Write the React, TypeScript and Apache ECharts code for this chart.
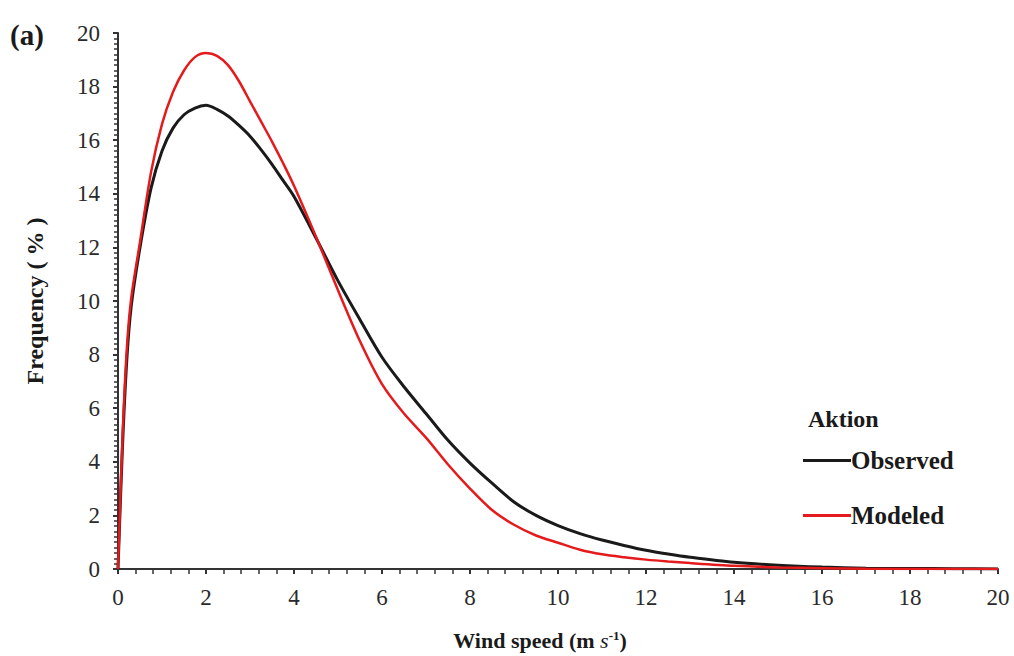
import React, { useEffect, useRef } from "react";
import * as echarts from "echarts";

const windSpeed = [0, 0.1, 0.2, 0.3, 0.5, 0.75, 1, 1.25, 1.5, 1.75, 2, 2.25, 2.5, 2.75, 3, 3.25, 3.5, 3.75, 4, 4.5, 5, 5.5, 6, 6.5, 7, 7.5, 8, 8.5, 9, 9.5, 10, 10.5, 11, 11.5, 12, 12.5, 13, 14, 15, 16, 17, 18, 19, 20];
const observed = [0, 4.5, 7.8, 9.8, 12.0, 14.2, 15.6, 16.45, 16.95, 17.2, 17.3, 17.15, 16.9, 16.55, 16.15, 15.65, 15.1, 14.5, 13.9, 12.35, 10.75, 9.3, 7.9, 6.8, 5.8, 4.8, 3.95, 3.2, 2.5, 2.0, 1.62, 1.32, 1.08, 0.88, 0.7, 0.56, 0.44, 0.25, 0.14, 0.07, 0.03, 0.02, 0.01, 0];
const modeled = [0, 4.8, 8.2, 10.1, 12.2, 14.8, 16.6, 17.8, 18.6, 19.1, 19.25, 19.15, 18.8, 18.2, 17.45, 16.7, 15.95, 15.15, 14.3, 12.4, 10.4, 8.5, 6.9, 5.8, 4.9, 3.9, 3.0, 2.2, 1.65, 1.25, 0.98, 0.72, 0.55, 0.44, 0.35, 0.28, 0.22, 0.12, 0.06, 0.03, 0.01, 0, 0, 0];

const seriesNames = ["Observed", "Modeled"];
const legendTitle = "Aktion";
const panelLabel = "(a)";
const yAxisName = "Frequency ( % )";

const serif = "'Liberation Serif', 'DejaVu Serif', serif";

export default function App() {
  const ref = useRef<HTMLDivElement>(null);
  useEffect(() => {
    if (!ref.current) return;
    const chart = echarts.init(ref.current, undefined, { renderer: "svg" });
    chart.setOption({
      animation: false,
      backgroundColor: "#ffffff",
      grid: { left: 118, right: 16, top: 33, bottom: 82, containLabel: false },
      xAxis: {
        type: "value",
        min: 0,
        max: 20,
        interval: 2,
        name: "{b|Wind speed (m }{i|s}{s|-1}{b|)}",
        nameLocation: "middle",
        nameGap: 60,
        nameTextStyle: {
          padding: [0, 36, 0, 0],
          rich: {
            b: { fontFamily: serif, fontWeight: "bold", fontSize: 22, color: "#1a1a1a" },
            i: { fontFamily: serif, fontStyle: "italic", fontSize: 22, color: "#1a1a1a" },
            s: { fontFamily: serif, fontWeight: "bold", fontSize: 13, color: "#1a1a1a", verticalAlign: "top", padding: [0, 0, 9, 0] },
          },
        },
        axisLine: { lineStyle: { color: "#333", width: 2 } },
        axisTick: { show: true, length: 5, lineStyle: { color: "#333", width: 2 } },
        minorTick: { show: true, splitNumber: 5, length: 5, lineStyle: { color: "#333", width: 1.5 } },
        splitLine: { show: false },
        axisLabel: { fontFamily: serif, fontSize: 23, color: "#2a2a2a", margin: 17 },
      },
      yAxis: {
        type: "value",
        min: 0,
        max: 20,
        interval: 2,
        name: yAxisName,
        nameLocation: "middle",
        nameGap: 71,
        nameTextStyle: { fontFamily: serif, fontWeight: "bold", fontSize: 24, color: "#1a1a1a" },
        axisLine: { lineStyle: { color: "#333", width: 2 } },
        axisTick: { show: true, length: 5, lineStyle: { color: "#333", width: 2 } },
        minorTick: { show: true, splitNumber: 10, length: 4, lineStyle: { color: "#333", width: 1.5 } },
        splitLine: { show: false },
        axisLabel: { fontFamily: serif, fontSize: 23, color: "#2a2a2a", margin: 18 },
      },
      legend: {
        orient: "vertical",
        left: 798,
        top: 443,
        itemWidth: 48,
        itemHeight: 3,
        itemGap: 30,
        icon: "rect",
        textStyle: { fontFamily: serif, fontWeight: "bold", fontSize: 25, color: "#1a1a1a", padding: [20, 0, 0, -5] },
        data: seriesNames,
      },
      graphic: [
        {
          type: "text",
          left: 10,
          top: 20,
          style: { text: panelLabel, font: `bold 29px ${serif}`, fill: "#1a1a1a" },
        },
        {
          type: "text",
          left: 808,
          top: 407,
          style: { text: legendTitle, font: `bold 24px ${serif}`, fill: "#1a1a1a" },
        },
      ],
      series: [
        {
          name: seriesNames[0],
          type: "line",
          data: windSpeed.map((x, i) => [x, observed[i]]),
          showSymbol: false,
          smooth: 0.3,
          itemStyle: { color: "#1a1a1a" },
          lineStyle: { color: "#1a1a1a", width: 3 },
          z: 2,
        },
        {
          name: seriesNames[1],
          type: "line",
          data: windSpeed.map((x, i) => [x, modeled[i]]),
          showSymbol: false,
          smooth: 0.3,
          itemStyle: { color: "#e41a1c" },
          lineStyle: { color: "#e41a1c", width: 2.5 },
          z: 3,
        },
      ],
    });
    return () => chart.dispose();
  }, []);
  return <div ref={ref} style={{ width: 1014, height: 656, position: "absolute", left: 0, top: 0 }} />;
}
